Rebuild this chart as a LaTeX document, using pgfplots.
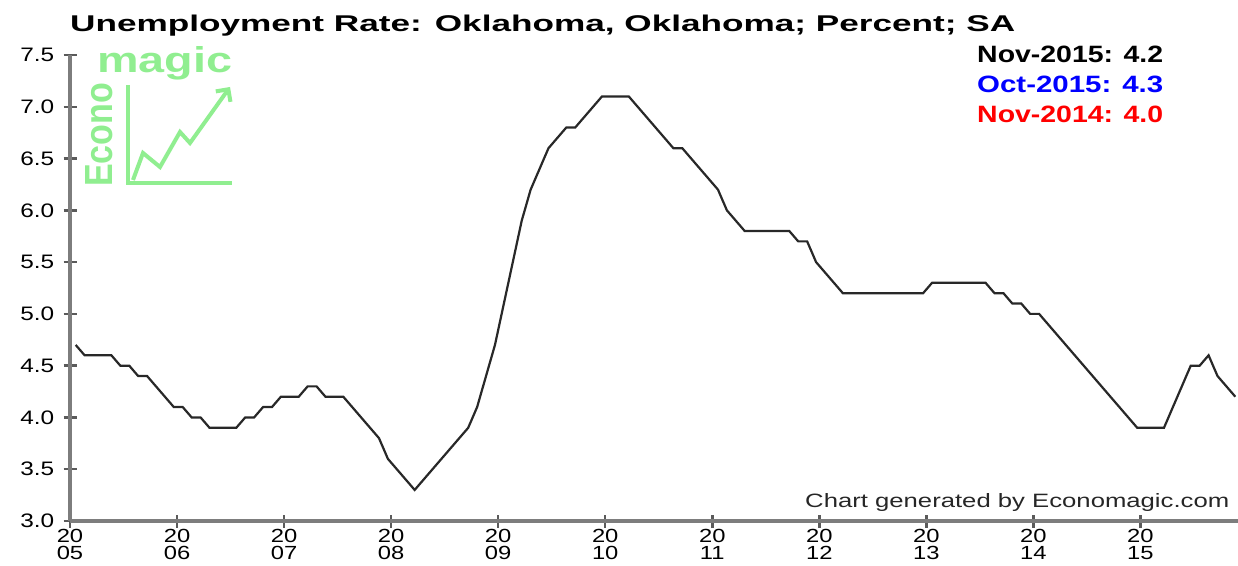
\documentclass[border=0pt]{standalone}
\usepackage{fontspec}
\setmainfont{Liberation Sans}[FakeStretch=1.25]
\newfontfamily\plainsans{Liberation Sans}
\usepackage{graphicx}
\usepackage{pgfplots}
\usepackage{pgfplotstable}
\pgfplotsset{compat=1.18}
\usetikzlibrary{arrows.meta}
\definecolor{logogreen}{RGB}{144,238,144}
\definecolor{axgray}{RGB}{125,125,125}
\definecolor{tickgray}{RGB}{90,90,90}
\definecolor{linecol}{RGB}{40,40,40}

\pgfplotstableread{
i v
0 4.7
1 4.6
2 4.6
3 4.6
4 4.6
5 4.5
6 4.5
7 4.4
8 4.4
9 4.3
10 4.2
11 4.1
12 4.1
13 4.0
14 4.0
15 3.9
16 3.9
17 3.9
18 3.9
19 4.0
20 4.0
21 4.1
22 4.1
23 4.2
24 4.2
25 4.2
26 4.3
27 4.3
28 4.2
29 4.2
30 4.2
31 4.1
32 4.0
33 3.9
34 3.8
35 3.6
36 3.5
37 3.4
38 3.3
39 3.4
40 3.5
41 3.6
42 3.7
43 3.8
44 3.9
45 4.1
46 4.4
47 4.7
48 5.1
49 5.5
50 5.9
51 6.2
52 6.4
53 6.6
54 6.7
55 6.8
56 6.8
57 6.9
58 7.0
59 7.1
60 7.1
61 7.1
62 7.1
63 7.0
64 6.9
65 6.8
66 6.7
67 6.6
68 6.6
69 6.5
70 6.4
71 6.3
72 6.2
73 6.0
74 5.9
75 5.8
76 5.8
77 5.8
78 5.8
79 5.8
80 5.8
81 5.7
82 5.7
83 5.5
84 5.4
85 5.3
86 5.2
87 5.2
88 5.2
89 5.2
90 5.2
91 5.2
92 5.2
93 5.2
94 5.2
95 5.2
96 5.3
97 5.3
98 5.3
99 5.3
100 5.3
101 5.3
102 5.3
103 5.2
104 5.2
105 5.1
106 5.1
107 5.0
108 5.0
109 4.9
110 4.8
111 4.7
112 4.6
113 4.5
114 4.4
115 4.3
116 4.2
117 4.1
118 4.0
119 3.9
120 3.9
121 3.9
122 3.9
123 4.1
124 4.3
125 4.5
126 4.5
127 4.6
128 4.4
129 4.3
130 4.2
}\datatable

\begin{document}
\begin{tikzpicture}[x=1pt,y=1pt]
\useasboundingbox (0,0) rectangle (1238,565);
\begin{axis}[
  at={(70pt,44pt)}, anchor=south west,
  scale only axis, width=1168pt, height=466pt,
  xmin=-0.64, xmax=130.3, ymin=3, ymax=7.5,
  axis x line=bottom, axis y line=left,
  axis line style={axgray, line width=3.5pt, -},
  xtick={-0.64,11.36,23.36,35.36,47.36,59.36,71.36,83.36,95.36,107.36,119.36},
  xticklabels={20\\05,20\\06,20\\07,20\\08,20\\09,20\\10,20\\11,20\\12,20\\13,20\\14,20\\15},
  xticklabel style={align=center, font=\fontsize{19}{17}\selectfont, inner sep=0pt, yshift=-2pt},
  ytick={3,3.5,4,4.5,5,5.5,6,6.5,7,7.5},
  yticklabel style={/pgf/number format/.cd, fixed, fixed zerofill, precision=1, assume math mode=true, /tikz/.cd, font=\fontsize{19.5}{19.5}\selectfont, inner sep=0pt, xshift=-9pt},
  tick style={tickgray, line width=2.5pt},
  major tick length=13pt,
  tick align=center,
  clip=false,
]
\addplot[linecol, line width=2.2pt] table[x=i,y=v] {\datatable};
\end{axis}

% title
\node[anchor=base west, inner sep=0pt] at (70,533) {\resizebox{945pt}{16.5pt}{\plainsans\bfseries Unemployment Rate: Oklahoma, Oklahoma; Percent; SA}};
% legend text
\node[anchor=base west, inner sep=0pt] at (977,502) {\resizebox{186pt}{16.5pt}{\plainsans\bfseries Nov-2015: 4.2}};
\node[anchor=base west, inner sep=0pt, text=blue] at (977,472) {\resizebox{186pt}{16.5pt}{\plainsans\bfseries Oct-2015: 4.3}};
\node[anchor=base west, inner sep=0pt, text=red] at (977,442) {\resizebox{186pt}{16.5pt}{\plainsans\bfseries Nov-2014: 4.0}};
% credit
\node[anchor=base west, inner sep=0pt, text=black!85] at (805,58) {\resizebox{424pt}{14pt}{\plainsans Chart generated by Economagic.com}};
% logo
\node[anchor=base west, inner sep=0pt, text=logogreen] at (97,492) {\resizebox{135pt}{26pt}{\plainsans\bfseries magic}};
\node[anchor=base west, inner sep=0pt, text=logogreen, rotate=90] at (112,378) {\resizebox{104pt}{27pt}{\plainsans\bfseries Econo}};
\draw[logogreen, line width=4pt] (128,480) -- (128,382) -- (232,382);
\draw[logogreen, line width=4pt, line join=miter, -{Straight Barb[length=9pt,width=18pt,line width=4pt]}] (133,385) -- (143,412) -- (160,398) -- (180,433) -- (190,422) -- (230,478);
\end{tikzpicture}
\end{document}
